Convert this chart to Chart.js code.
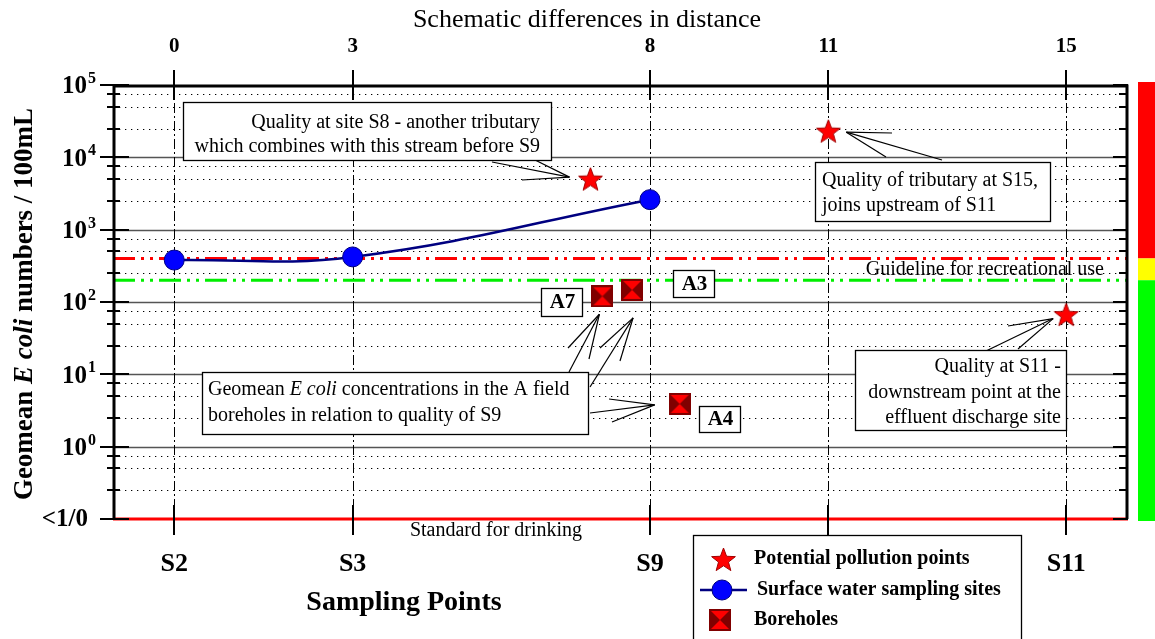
<!DOCTYPE html>
<html>
<head>
<meta charset="utf-8">
<script src="https://cdn.jsdelivr.net/npm/chart.js@4.4.1/dist/chart.umd.min.js"></script>
<style>
  html, body { margin: 0; padding: 0; background: #fff; }
  #wrap { width: 1155px; height: 639px; }
</style>
</head>
<body>
<div id="wrap"><canvas id="chart"></canvas></div>
<script>
// *** DATA ***
const distanceTicks = [0, 3, 8, 11, 15];
const siteLabels = ['S2', 'S3', 'S9', '', 'S11'];

const yDecades = [0.1, 1, 10, 100, 1000, 10000, 100000];
const yTickBase = ['<1/0', '10', '10', '10', '10', '10', '10'];
const yTickExp = ['', '0', '1', '2', '3', '4', '5'];
const yMinorFactors = [2.5, 5, 7.5];

const surfaceX = [0, 3, 8];
const surfaceY = [380, 420, 2600];

const pollutionX = [7, 11, 15];
const pollutionY = [5000, 23000, 67];

const boreholeNames = ['A7', 'A3', 'A4'];
const boreholeX = [7.2, 7.7, 8.5];
const boreholeY = [120, 147, 3.9];

const recreationalLimit = 400;
const lowerLimit = 200;
const drinkingStandard = 0.1;

const xMin = -1.03, xMax = 16.04;
const SERIF = '"Liberation Serif", "Times New Roman", serif';

// *** MARKER IMAGES ***
function makeStar(size) {
    const c = document.createElement('canvas');
    c.width = size; c.height = size;
    const g = c.getContext('2d');
    const cx = size / 2, cy = size / 2 + 1, R = size / 2 - 1, r = R * 0.42;
    g.beginPath();
    for (let i = 0; i < 10; i++) {
        const rad = i % 2 ? r : R;
        const a = -Math.PI / 2 + i * Math.PI / 5;
        g.lineTo(cx + rad * Math.cos(a), cy + rad * Math.sin(a));
    }
    g.closePath();
    g.fillStyle = '#ff0000';
    g.fill();
    g.strokeStyle = '#a00000';
    g.lineWidth = 1;
    g.stroke();
    return c;
}

function makeBorehole(size) {
    const c = document.createElement('canvas');
    c.width = size; c.height = size;
    const g = c.getContext('2d');
    g.fillStyle = '#800000';
    g.fillRect(0, 0, size, size);
    g.fillStyle = '#ff0000';
    const m = 2;
    g.beginPath(); g.moveTo(m, m); g.lineTo(size - m, m); g.lineTo(size / 2, size / 2); g.closePath(); g.fill();
    g.beginPath(); g.moveTo(m, size - m); g.lineTo(size - m, size - m); g.lineTo(size / 2, size / 2); g.closePath(); g.fill();
    return c;
}

const starImg = makeStar(27);
const boreImg = makeBorehole(22);

// *** HELPERS ***
const font = (size, weight = 'normal', style = 'normal') => `${style} ${weight} ${size}px ${SERIF}`;

// draw text made of segments [{t, f}] ; align 'left' | 'right' | 'center'
function drawRich(ctx, segs, x, y, align) {
    let w = 0;
    segs.forEach(s => { ctx.font = s.f; w += ctx.measureText(s.t).width; });
    let cx = align === 'right' ? x - w : align === 'center' ? x - w / 2 : x;
    ctx.textAlign = 'left';
    segs.forEach(s => {
        ctx.font = s.f;
        ctx.fillText(s.t, cx, y);
        cx += ctx.measureText(s.t).width;
    });
}

function line(ctx, x0, y0, x1, y1) {
    ctx.beginPath();
    ctx.moveTo(x0, y0);
    ctx.lineTo(x1, y1);
    ctx.stroke();
}

function textBox(ctx, x0, y0, x1, y1) {
    ctx.fillStyle = '#fff';
    ctx.fillRect(x0, y0, x1 - x0, y1 - y0);
    ctx.strokeStyle = '#000';
    ctx.lineWidth = 1.3;
    ctx.strokeRect(x0 + 0.5, y0 + 0.5, x1 - x0, y1 - y0);
}

const F20 = font(20);
const F20I = font(20, 'normal', 'italic');

// text boxes of the figure (pixel layout)
const boxes = [
    { rect: [183, 102, 551, 160], align: 'right', tx: 540, lines: [
        [{ t: 'Quality at site S8 - another tributary', f: F20 }],
        [{ t: 'which combines with this stream before S9', f: F20 }]], ly: [123, 147] },
    { rect: [815, 162, 1050, 221], align: 'left', tx: 822, lines: [
        [{ t: 'Quality of tributary at S15,', f: F20 }],
        [{ t: 'joins upstream of S11', f: F20 }]], ly: [181, 206] },
    { rect: [855, 350, 1066, 430], align: 'right', tx: 1061, lines: [
        [{ t: 'Quality at S11 -', f: F20 }],
        [{ t: 'downstream point at the', f: F20 }],
        [{ t: 'effluent discharge site', f: F20 }]], ly: [367, 393, 418] },
    { rect: [202, 372, 588, 434], align: 'left', tx: 208, lines: [
        [{ t: 'Geomean ', f: F20 }, { t: 'E coli', f: F20I }, { t: ' concentrations in the A field', f: F20 }],
        [{ t: 'boreholes in relation to quality of S9', f: F20 }]], ly: [390, 416] }
];

// callouts: anchored to a marker (dataset, index) with apex offset, fanning to end points
const callouts = [
    { ds: 1, i: 0, dx: -21, dy: -2, ends: [[492, 162], [522, 180], [531, 158]] },
    { ds: 1, i: 1, dx: 18, dy: 1, ends: [[892, 133], [886, 157], [942, 160]] },
    { ds: 1, i: 2, dx: -13, dy: 4, ends: [[1008, 326], [986, 351], [1018, 349]] },
    { ds: 2, i: 0, dx: -3, dy: 18, ends: [[568, 348], [589, 359], [569, 372]] },
    { ds: 2, i: 1, dx: 1, dy: 28, ends: [[600, 348], [620, 361], [590, 387]] },
    { ds: 2, i: 2, dx: -25, dy: 1, ends: [[609, 399], [590, 413], [612, 422]] }
];

const nameBoxes = [[541, 288, 582, 316], [673, 270, 714, 297], [699, 406, 740, 432]];

// *** PLUGINS ***
const gridPlugin = {
    id: 'gridPlugin',
    beforeDatasetsDraw(chart) {
        const { ctx, chartArea: a, scales: { x, y } } = chart;
        ctx.save();
        // minor dotted lines
        ctx.strokeStyle = '#000';
        ctx.lineWidth = 1;
        ctx.setLineDash([1.3, 4.7]);
        yDecades.slice(0, -1).forEach(d => {
            yMinorFactors.forEach(f => {
                const py = Math.round(y.getPixelForValue(d * f)) + 0.5;
                line(ctx, a.left, py, a.right, py);
            });
        });
        // decade lines
        ctx.setLineDash([]);
        ctx.strokeStyle = '#555';
        ctx.lineWidth = 1.5;
        yDecades.slice(1, -1).forEach(d => {
            const py = Math.round(y.getPixelForValue(d)) + 0.5;
            line(ctx, a.left, py, a.right, py);
        });
        // vertical dash-dot lines
        ctx.strokeStyle = '#000';
        ctx.lineWidth = 1;
        ctx.setLineDash([10, 3, 2, 3]);
        distanceTicks.forEach(v => {
            const px = Math.round(x.getPixelForValue(v)) + 0.5;
            line(ctx, px, a.top, px, a.bottom);
        });
        ctx.restore();
    },
    afterDatasetsDraw(chart) {
        const { ctx, chartArea: a, scales: { x, y } } = chart;
        ctx.save();
        ctx.fillStyle = '#000';
        ctx.strokeStyle = '#000';

        // frame
        ctx.lineWidth = 3;
        ctx.beginPath();
        ctx.moveTo(a.left + 1, a.bottom);
        ctx.lineTo(a.left + 1, a.top + 1);
        ctx.lineTo(a.right - 1, a.top + 1);
        ctx.lineTo(a.right - 1, a.bottom);
        ctx.stroke();

        // y ticks
        ctx.lineWidth = 2;
        yDecades.forEach(d => {
            const py = Math.round(y.getPixelForValue(d));
            line(ctx, a.left - 13, py, a.left + 16, py);
            line(ctx, a.right - 15, py, a.right, py);
        });
        yDecades.slice(0, -1).forEach(d => {
            yMinorFactors.forEach(f => {
                const py = Math.round(y.getPixelForValue(d * f));
                line(ctx, a.left - 6, py, a.left + 7, py);
                line(ctx, a.right - 9, py, a.right, py);
            });
        });
        // x ticks top and bottom
        distanceTicks.forEach(v => {
            const px = Math.round(x.getPixelForValue(v));
            line(ctx, px, a.top - 15, px, a.top + 15);
            line(ctx, px, a.bottom - 14, px, a.bottom + 16);
        });

        // y tick labels
        ctx.textBaseline = 'middle';
        yDecades.forEach((d, i) => {
            const py = y.getPixelForValue(d);
            if (!yTickExp[i]) {
                drawRich(ctx, [{ t: yTickBase[i], f: font(25, 'bold') }], 88, py + 1, 'right');
            } else {
                drawRich(ctx, [{ t: yTickBase[i], f: font(25, 'bold') }], 87, py + 2, 'right');
                drawRich(ctx, [{ t: yTickExp[i], f: font(16, 'bold') }], 88, py - 6, 'left');
            }
        });

        // y title
        ctx.save();
        ctx.translate(25, (y.getPixelForValue(1e5) + y.getPixelForValue(0.1)) / 2 + 2);
        ctx.rotate(-Math.PI / 2);
        drawRich(ctx, [
            { t: 'Geomean ', f: font(27, 'bold') },
            { t: 'E coli', f: font(27, 'bold', 'italic') },
            { t: ' numbers / 100mL', f: font(27, 'bold') }
        ], 0, 0, 'center');
        ctx.restore();

        // axis titles
        drawRich(ctx, [{ t: 'Schematic differences in distance', f: font(26) }], 587, 20, 'center');
        drawRich(ctx, [{ t: 'Sampling Points', f: font(28, 'bold') }], 404, 603, 'center');

        // guideline texts
        drawRich(ctx, [{ t: 'Guideline for recreational use', f: F20 }], a.right - 24, 270, 'right');
        drawRich(ctx, [{ t: 'Standard for drinking', f: F20 }], 496, 531, 'center');

        // callout lines
        ctx.lineWidth = 1.2;
        ctx.strokeStyle = '#000';
        callouts.forEach(c => {
            const el = chart.getDatasetMeta(c.ds).data[c.i];
            const ax = el.x + c.dx, ay = el.y + c.dy;
            c.ends.forEach(([ex, ey]) => line(ctx, ax, ay, ex, ey));
        });

        // text boxes
        boxes.forEach(b => {
            textBox(ctx, ...b.rect);
            ctx.fillStyle = '#000';
            b.lines.forEach((segs, k) => drawRich(ctx, segs, b.tx, b.ly[k], b.align));
        });

        // borehole name boxes
        nameBoxes.forEach((r, k) => {
            textBox(ctx, ...r);
            ctx.fillStyle = '#000';
            drawRich(ctx, [{ t: boreholeNames[k], f: font(21, 'bold') }], (r[0] + r[2]) / 2 + 1, (r[1] + r[3]) / 2 + 1, 'center');
        });

        // colour bar
        const barX = 1138, barW = 17;
        const yTop = y.getPixelForValue(1e5) - 3;
        const yRed = y.getPixelForValue(recreationalLimit);
        const yYel = y.getPixelForValue(lowerLimit);
        const yBot = y.getPixelForValue(drinkingStandard) + 2;
        ctx.fillStyle = '#ff0000'; ctx.fillRect(barX, yTop, barW, yRed - yTop);
        ctx.fillStyle = '#ffff00'; ctx.fillRect(barX, yRed, barW, yYel - yRed);
        ctx.fillStyle = '#00ff00'; ctx.fillRect(barX, yYel, barW, yBot - yYel);

        // legend
        textBox(ctx, 693, 535, 1021, 660);
        ctx.drawImage(starImg, 723 - 13, 559 - 13);
        ctx.strokeStyle = '#000080';
        ctx.lineWidth = 2.5;
        line(ctx, 700, 590, 747, 590);
        ctx.beginPath();
        ctx.arc(722, 590, 10, 0, Math.PI * 2);
        ctx.fillStyle = '#0000ff';
        ctx.fill();
        ctx.lineWidth = 1;
        ctx.stroke();
        ctx.drawImage(boreImg, 720 - 11, 620 - 11);
        ctx.fillStyle = '#000';
        drawRich(ctx, [{ t: 'Potential pollution points', f: font(20, 'bold') }], 754, 559, 'left');
        drawRich(ctx, [{ t: 'Surface water sampling sites', f: font(20, 'bold') }], 757, 590, 'left');
        drawRich(ctx, [{ t: 'Boreholes', f: font(20, 'bold') }], 754, 620, 'left');

        ctx.restore();
    }
};

// *** CHART ***
const guideline = (value, color, dash) => ({
    label: '',
    data: [{ x: xMin, y: value }, { x: xMax, y: value }],
    borderColor: color,
    borderWidth: 3,
    borderDash: dash,
    pointRadius: 0,
    clip: false,
    order: 10
});

const surfaceChart = new Chart(document.getElementById('chart'), {
    type: 'line',
    data: {
        datasets: [
            {
                label: 'Surface water sampling sites',
                data: surfaceX.map((v, i) => ({ x: v, y: surfaceY[i] })),
                borderColor: '#000080',
                borderWidth: 2.5,
                tension: 0.4,
                pointRadius: 10,
                pointBackgroundColor: '#0000ff',
                pointBorderColor: '#000080',
                pointBorderWidth: 1,
                order: 1
            },
            {
                label: 'Potential pollution points',
                data: pollutionX.map((v, i) => ({ x: v, y: pollutionY[i] })),
                showLine: false,
                pointStyle: starImg,
                order: 0
            },
            {
                label: 'Boreholes',
                data: boreholeX.map((v, i) => ({ x: v, y: boreholeY[i] })),
                showLine: false,
                pointStyle: boreImg,
                order: 0
            },
            guideline(recreationalLimit, '#ff0000', [22, 6, 3, 6, 3, 6]),
            guideline(lowerLimit, '#00ee00', [22, 6, 3, 6, 3, 6]),
            guideline(drinkingStandard, '#ff0000', [])
        ]
    },
    options: {
        responsive: true,
        maintainAspectRatio: false,
        animation: false,
        events: [],
        layout: { padding: { left: 0, right: 27, top: 0, bottom: 0 } },
        plugins: { legend: { display: false }, tooltip: { enabled: false } },
        scales: {
            x: {
                type: 'linear',
                position: 'bottom',
                min: xMin,
                max: xMax,
                afterBuildTicks: ax => { ax.ticks = distanceTicks.map(v => ({ value: v })); },
                afterFit: ax => { ax.height = 120; },
                grid: { display: false, drawTicks: false },
                border: { display: false },
                ticks: {
                    autoSkip: false,
                    maxRotation: 0,
                    padding: 30,
                    color: '#000',
                    font: { family: SERIF, size: 26, weight: 'bold' },
                    callback: v => siteLabels[distanceTicks.indexOf(v)] ?? ''
                }
            },
            x2: {
                type: 'linear',
                position: 'top',
                min: xMin,
                max: xMax,
                afterBuildTicks: ax => { ax.ticks = distanceTicks.map(v => ({ value: v })); },
                afterFit: ax => { ax.height = 85; },
                grid: { display: false, drawTicks: false },
                border: { display: false },
                ticks: {
                    autoSkip: false,
                    maxRotation: 0,
                    padding: 26,
                    color: '#000',
                    font: { family: SERIF, size: 21, weight: 'bold' },
                    callback: v => String(v)
                }
            },
            y: {
                type: 'logarithmic',
                min: 0.1,
                max: 100000,
                afterFit: ax => { ax.width = 113; },
                grid: { display: false, drawTicks: false },
                border: { display: false },
                ticks: { display: false }
            }
        }
    },
    plugins: [gridPlugin]
});
</script>
</body>
</html>
